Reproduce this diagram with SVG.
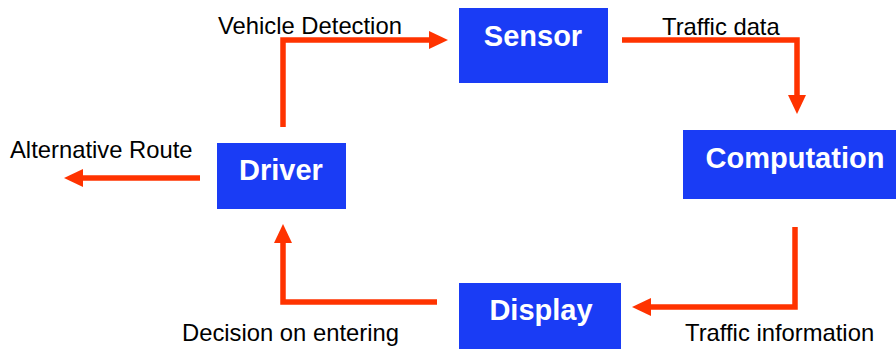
<svg xmlns="http://www.w3.org/2000/svg" width="896" height="349" viewBox="0 0 896 349">
<style>
.box{fill:#1a3cf5}
.bt{font-family:"Liberation Sans",Arial,sans-serif;font-weight:bold;font-size:29px;fill:#fff;text-anchor:middle}
.lbl{font-family:"Liberation Sans",Arial,sans-serif;font-size:23.8px;fill:#000}
.conn{fill:none;stroke:#ff3300;stroke-width:5.5}
</style>
<defs>
<marker id="ah" markerUnits="userSpaceOnUse" markerWidth="20" markerHeight="20" refX="0" refY="9" orient="auto" viewBox="0 0 20 18">
<path d="M0,0 L19,9 L0,18 Z" fill="#ff3300"/>
</marker>
</defs>
<rect width="896" height="349" fill="#fff"/>
<g id="sensor"><rect class="box" x="459" y="8" width="149" height="75"/><text class="bt" x="533" y="46">Sensor</text></g>
<g id="computation"><rect class="box" x="683" y="130" width="213" height="69"/><text class="bt" x="795" y="168">Computation</text></g>
<g id="driver"><rect class="box" x="217" y="143" width="129" height="66"/><text class="bt" x="281" y="180">Driver</text></g>
<g id="display"><rect class="box" x="459" y="283" width="162" height="66"/><text class="bt" x="541" y="320">Display</text></g>
<g id="connectors">
<path class="conn" d="M283,127 V40 H429" marker-end="url(#ah)"/>
<path class="conn" d="M622,40 H797 V95" marker-end="url(#ah)"/>
<path class="conn" d="M795,227 V307 H651" marker-end="url(#ah)"/>
<path class="conn" d="M437,302 H283 V243" marker-end="url(#ah)"/>
<path class="conn" d="M200,178 H83" marker-end="url(#ah)"/>
</g>
<g id="labels">
<text class="lbl" x="218" y="34">Vehicle Detection</text>
<text class="lbl" x="662" y="35">Traffic data</text>
<text class="lbl" x="10" y="158">Alternative Route</text>
<text class="lbl" x="182" y="341">Decision on entering</text>
<text class="lbl" x="685" y="341">Traffic information</text>
</g>
</svg>
